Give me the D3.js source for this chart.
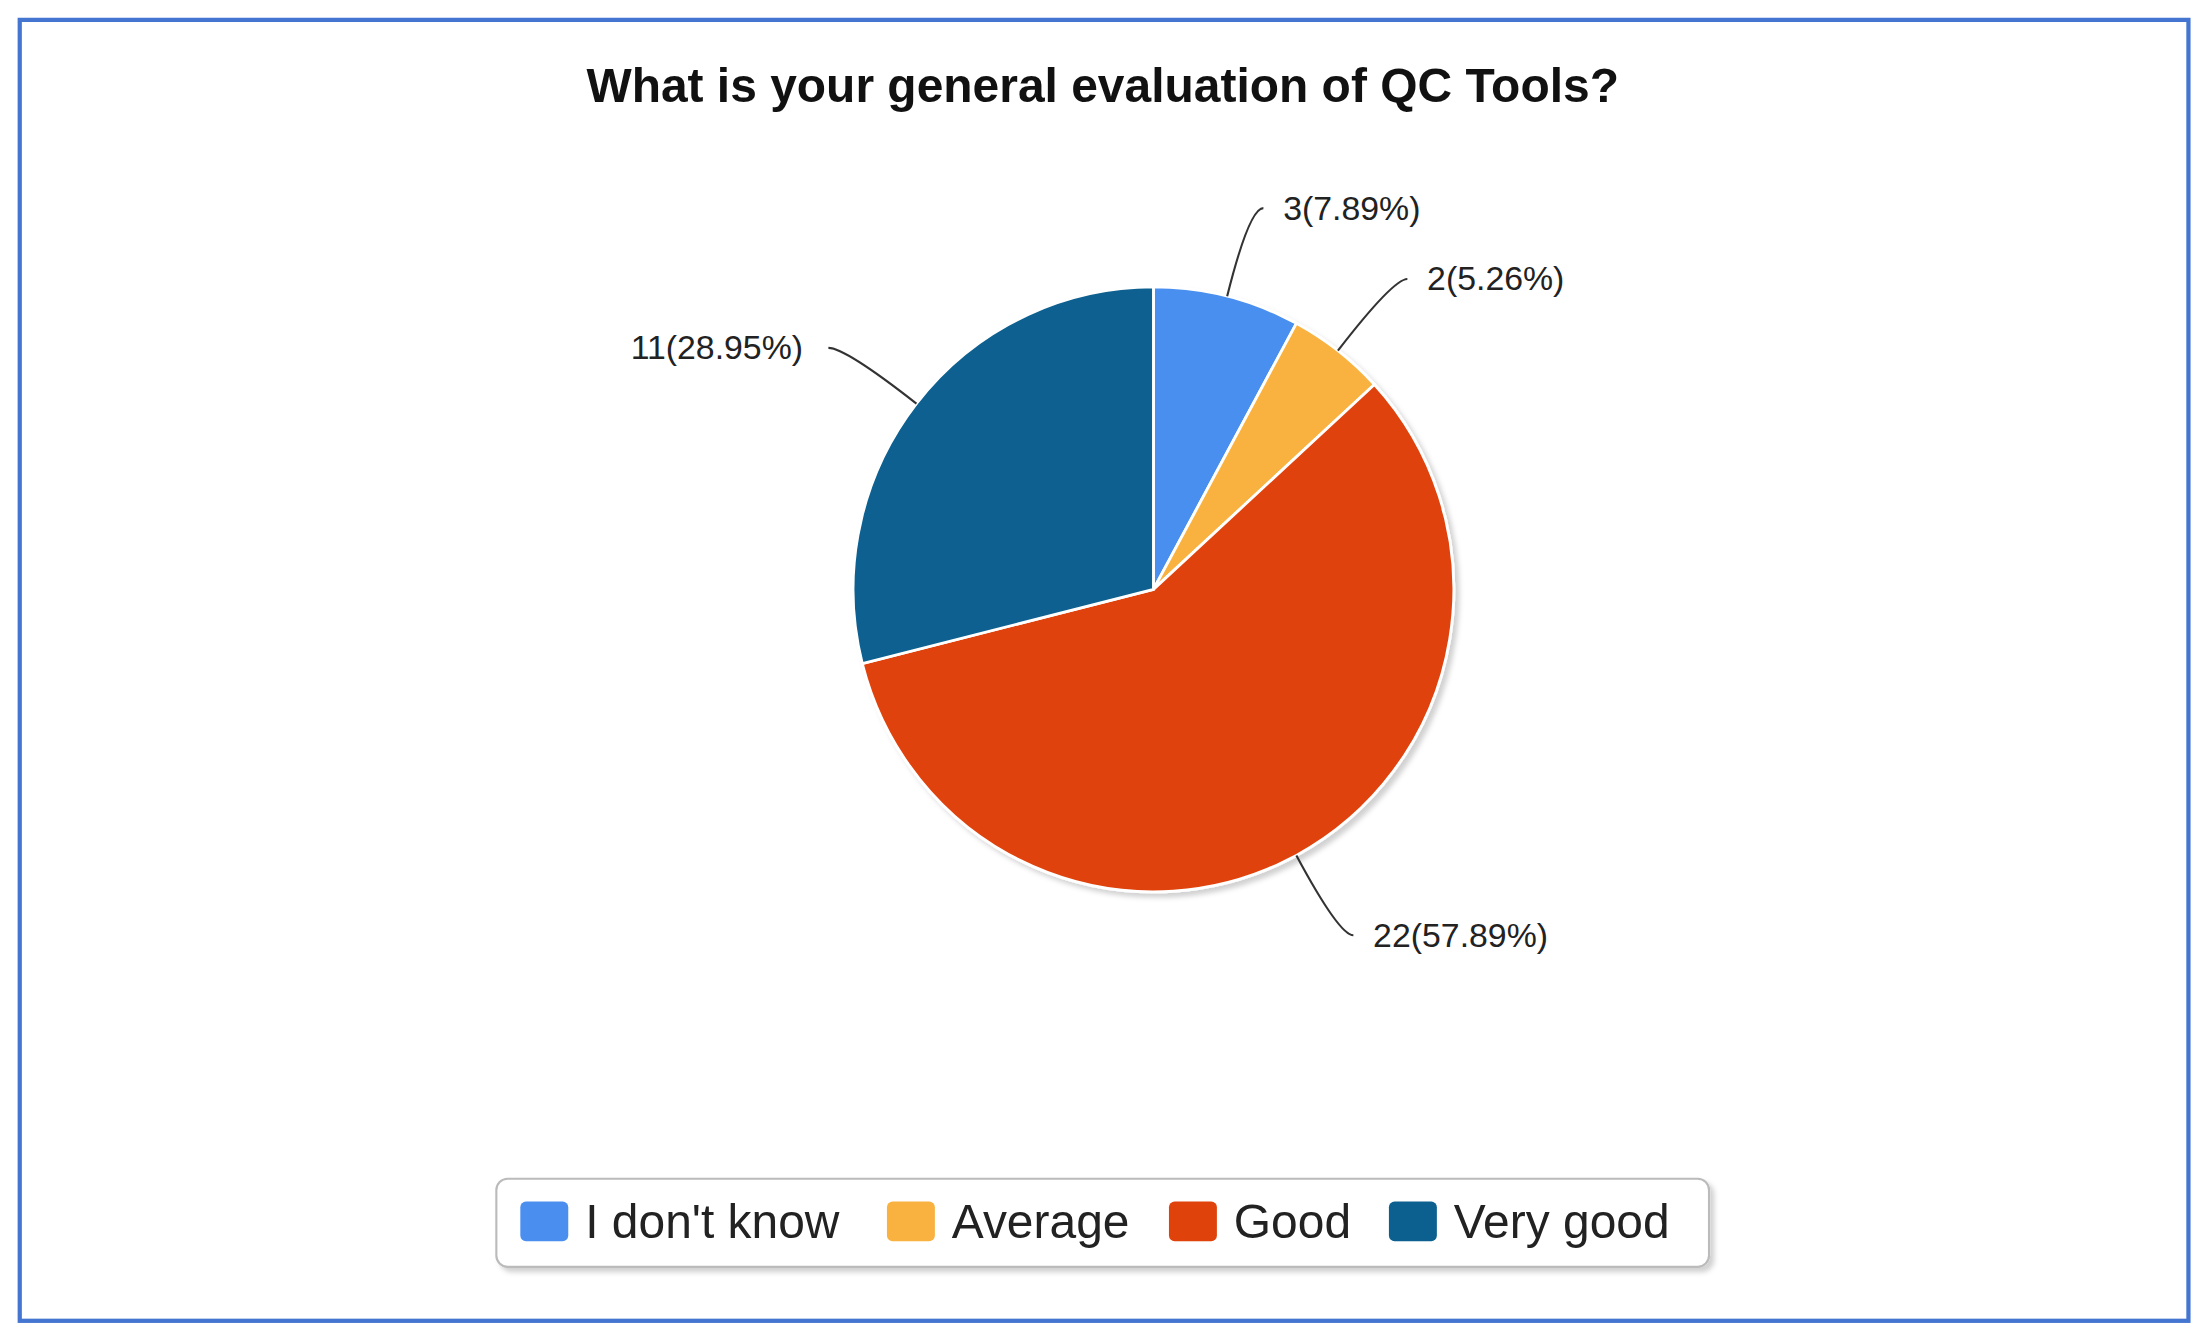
<!DOCTYPE html>
<html><head><meta charset="utf-8">
<script src="https://cdn.jsdelivr.net/npm/d3@7"></script>
<style>html,body{margin:0;padding:0;background:#fff;overflow:hidden}</style>
</head><body>
<svg id="c" width="2211" height="1335" viewBox="0 0 1568 940" preserveAspectRatio="none"></svg>
<script>
const categories = ["I don't know", "Average", "Good", "Very good"];
const counts = [3, 2, 22, 11];
const percents = ["7.89%", "5.26%", "57.89%", "28.95%"];
const colors = ["#4a8ff0", "#f9b23f", "#e0420b", "#0b608f"];
const title = "What is your general evaluation of QC Tools?";

const svg = d3.select("#c");
svg.append("rect").attr("x",14).attr("y",14).attr("width",1538).attr("height",916)
  .attr("fill","#fff").attr("stroke","#4475d0").attr("stroke-width",3);
svg.append("text").attr("x",782).attr("y",72).attr("text-anchor","middle")
  .attr("font-family","Liberation Sans, Arial, sans-serif").attr("font-weight","bold")
  .attr("font-size",34).attr("fill","#111").text(title);

const cx=818, cy=415, r=213;
const defs = svg.append("defs");
const f = defs.append("filter").attr("id","sh").attr("x","-20%").attr("y","-20%").attr("width","140%").attr("height","140%");
f.append("feDropShadow").attr("dx",3).attr("dy",3).attr("stdDeviation",2).attr("flood-color","#000").attr("flood-opacity",0.18);

const pie = d3.pie().value(d=>d).sort(null);
const arcs = pie(counts);
const arc = d3.arc().innerRadius(0).outerRadius(r);
const g = svg.append("g").attr("transform",`translate(${cx},${cy})`);
g.append("g").attr("filter","url(#sh)").selectAll("path").data(arcs).join("path")
  .attr("d",arc).attr("fill",(d,i)=>colors[i]).attr("stroke","#fff").attr("stroke-width",2);

const pt=(a,rr)=>[rr*Math.sin(a), -rr*Math.cos(a)];
arcs.forEach((d,i)=>{
  const a=(d.startAngle+d.endAngle)/2;
  const right = Math.sin(a)>0;
  const s=pt(a,r), c=pt(a,r*1.3);
  const e=[c[0]+(right?10:-12), c[1]];
  const ctrl=[c[0]-(right?4:-4)*1, c[1]+6*Math.sign(-Math.cos(a))];
  g.append("path").attr("d",`M${s[0]},${s[1]} Q${c[0]},${c[1]} ${e[0]},${e[1]}`)
    .attr("fill","none").attr("stroke","#333").attr("stroke-width",1.5);
  g.append("text").attr("x",e[0]+(right?14:-18)).attr("y",e[1]+8)
    .attr("text-anchor",right?"start":"end")
    .attr("font-family","Liberation Sans, Arial, sans-serif").attr("font-size",24).attr("fill","#222")
    .text(`${counts[i]}(${percents[i]})`);
});

// legend
const lg = svg.append("g");
lg.append("rect").attr("x",352).attr("y",830).attr("width",860).attr("height",62).attr("rx",8)
  .attr("fill","#fff").attr("stroke","#bbb").attr("stroke-width",1.5).attr("filter","url(#sh)");
const lx=[369,629,829,985];
categories.forEach((c,i)=>{
  lg.append("rect").attr("x",lx[i]).attr("y",846).attr("width",34).attr("height",28).attr("rx",4).attr("fill",colors[i]);
  lg.append("text").attr("x",lx[i]+46).attr("y",872)
    .attr("font-family","Liberation Sans, Arial, sans-serif").attr("font-size",34).attr("fill","#222").text(c);
});
</script>
</body></html>
